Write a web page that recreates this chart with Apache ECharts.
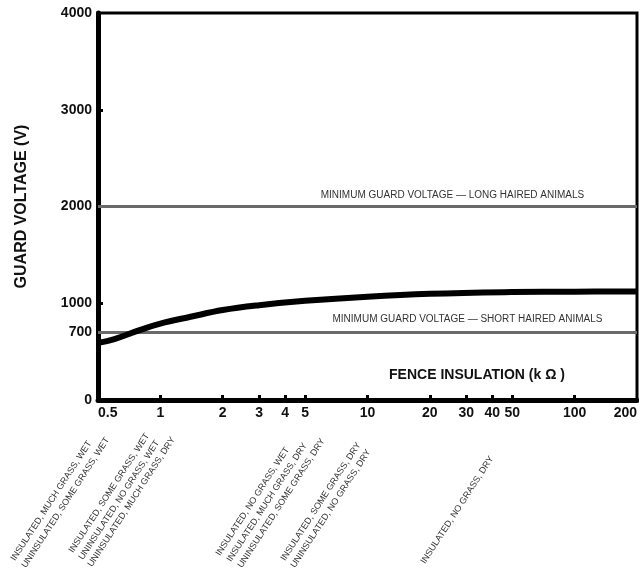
<!DOCTYPE html>
<html><head><meta charset="utf-8">
<script src="https://cdn.jsdelivr.net/npm/echarts@6/dist/echarts.min.js"></script>
<style>html,body{margin:0;padding:0;background:#fff}#c{width:639px;height:576px}</style>
</head><body><div id="c"></div>
<script>
// Fence insulation (kΩ) and guard voltage (V)
const resistance = [0.5, 0.6, 0.8, 1, 1.4, 2, 3, 5, 10, 20, 50, 100, 200];
const guardVoltage = [590, 630, 725, 790, 860, 930, 980, 1025, 1068, 1097, 1115, 1120, 1122];
const xTickLabels = [0.5, 1, 2, 3, 4, 5, 10, 20, 30, 40, 50, 100, 200];
const xTickMarks = [1, 2, 3, 4, 5, 10, 20, 30, 40, 50, 100];
const yTickLabels = [0, 700, 1000, 2000, 3000, 4000];
const yTickMarks = [700, 1000, 2000, 3000];
const thresholdValues = [2000, 700];
const thresholdNames = ['MINIMUM GUARD VOLTAGE — LONG HAIRED ANIMALS', 'MINIMUM GUARD VOLTAGE — SHORT HAIRED ANIMALS'];
const conditionLines = [
  'INSULATED, MUCH GRASS, WET', 'UNINSULATED, SOME GRASS, WET',
  'INSULATED, SOME GRASS, WET', 'UNINSULATED, NO GRASS, WET', 'UNINSULATED, MUCH GRASS, DRY',
  'INSULATED, NO GRASS, WET', 'INSULATED, MUCH GRASS, DRY', 'UNINSULATED, SOME GRASS, DRY',
  'INSULATED, SOME GRASS, DRY', 'UNINSULATED, NO GRASS, DRY',
  'INSULATED, NO GRASS, DRY'
];
const xTitle = 'FENCE INSULATION (k Ω )';
const yTitle = 'GUARD VOLTAGE (V)';

const lg = v => Math.log10(v);
// start points (bottom-left) of the rotated condition notes
const noteAnchors = [[13,560],[24,567],[71,552],[81,559],[90,566],[218,555],[229,561],[240,567],[283,560],[293,567],[423,563]];
const ang = 57 * Math.PI / 180;

const chart = echarts.init(document.getElementById('c'), null, {renderer: 'canvas'});
const F = 'Liberation Sans, Arial, sans-serif';
chart.setOption({
  animation: false,
  backgroundColor: '#fff',
  grid: {left: 98, right: 2, top: 13, bottom: 176, containLabel: false, outerBoundsMode: 'none',
    show: true, borderColor: '#000', borderWidth: 3, backgroundColor: 'transparent'},
  xAxis: {
    type: 'value', min: lg(0.5), max: lg(200),
    axisLine: {onZero: false, lineStyle: {color: '#000', width: 5}},
    axisTick: {show: true, inside: true, length: 5, lineStyle: {color: '#000', width: 3}, customValues: xTickMarks.map(lg)},
    axisLabel: {customValues: xTickLabels.map(lg), margin: 6, color: '#111', fontFamily: F, fontSize: 14, fontWeight: 'bold',
      alignMinLabel: 'left', alignMaxLabel: 'right', hideOverlap: false,
      formatter: v => String(Math.round(Math.pow(10, v) * 10) / 10)},
    splitLine: {show: false}
  },
  yAxis: {
    type: 'value', min: 0, max: 4000,
    name: yTitle, nameLocation: 'middle', nameRotate: 90, nameGap: 68,
    nameTextStyle: {color: '#111', fontFamily: F, fontSize: 16, fontWeight: 'bold'},
    axisLine: {onZero: false, lineStyle: {color: '#000', width: 5}},
    axisTick: {show: true, inside: true, length: 5, lineStyle: {color: '#000', width: 3}, customValues: yTickMarks},
    axisLabel: {customValues: yTickLabels, margin: 6, color: '#111', fontFamily: F, fontSize: 14, fontWeight: 'bold',
      formatter: v => String(v)},
    splitLine: {show: false}
  },
  series: [{
    type: 'line', smooth: 0.4, symbol: 'none',
    data: resistance.map((r, i) => [lg(r), guardVoltage[i]]),
    lineStyle: {color: '#000', width: 6},
    z: 5,
    markLine: {
      silent: true, symbol: 'none',
      lineStyle: {color: '#6a6a6a', width: 3, type: 'solid'},
      data: thresholdValues.map((v, i) => ({
        yAxis: v,
        label: {show: true, formatter: thresholdNames[i], position: 'insideMiddleTop',
          offset: i === 0 ? [85, -1] : [100, -3],
          color: '#333', fontFamily: F, fontSize: 10}
      }))
    }
  }],
  graphic: [
    {type: 'text', x: 477, y: 375, style: {text: xTitle, fill: '#111', font: 'bold 14px ' + F, textAlign: 'center', textVerticalAlign: 'middle'}}
  ].concat(conditionLines.map((t, i) => ({
    type: 'text', x: noteAnchors[i][0], y: noteAnchors[i][1], rotation: ang,
    style: {text: t, fill: '#333', font: '9px ' + F, textAlign: 'left', textVerticalAlign: 'middle'}
  })))
});
</script></body></html>
